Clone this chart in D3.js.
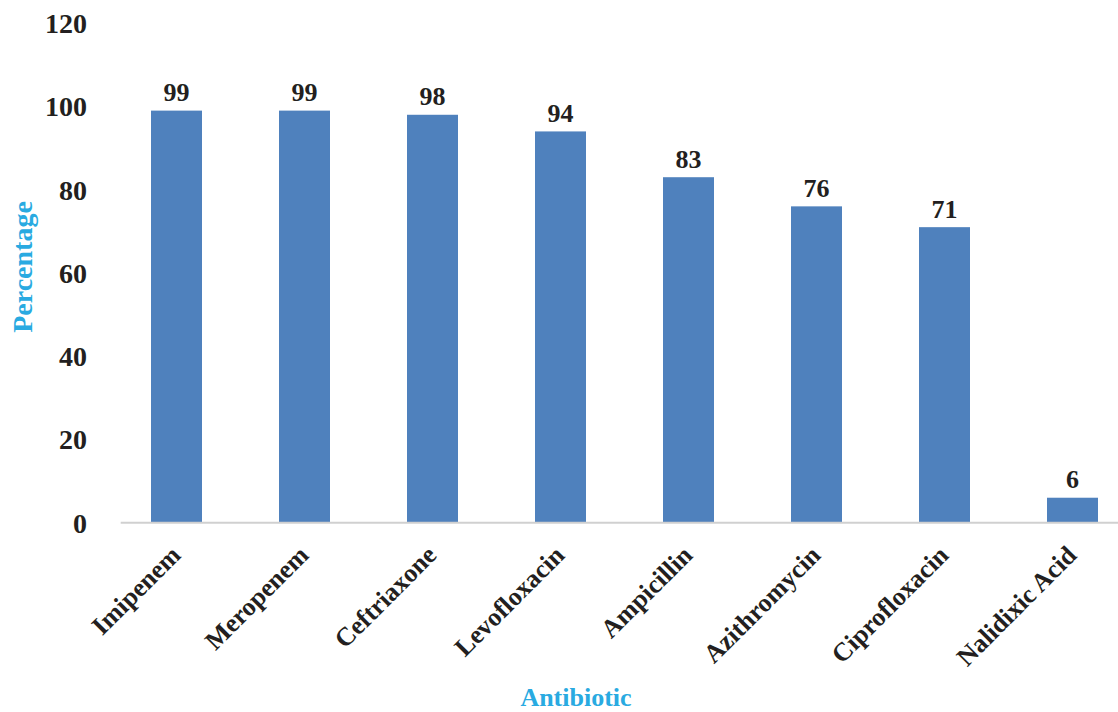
<!DOCTYPE html>
<html>
<head>
<meta charset="utf-8">
<script src="https://cdn.jsdelivr.net/npm/d3@7"></script>
<style>
  html, body { margin: 0; padding: 0; background: #fff; }
  svg { display: block; }
  text { font-family: "Liberation Serif", "Times New Roman", serif; font-weight: bold; }
</style>
</head>
<body>
<svg id="chart" width="1118" height="712"></svg>
<script>
// Antibiotic susceptibility percentages
const antibiotics = ["Imipenem", "Meropenem", "Ceftriaxone", "Levofloxacin", "Ampicillin", "Azithromycin", "Ciprofloxacin", "Nalidixic Acid"];
const percentages = [99, 99, 98, 94, 83, 76, 71, 6];
const yTicks = [0, 20, 40, 60, 80, 100, 120];

const svg = d3.select("#chart");
const W = 1118, H = 712;
const plotLeft = 112.5, step = 128;
const baseY = 522.7, topY = 23.2;

const x = d3.scaleBand()
  .domain(antibiotics)
  .range([plotLeft, plotLeft + step * antibiotics.length])
  .paddingInner(0.6)
  .paddingOuter(0.3);

const y = d3.scaleLinear().domain([0, 120]).range([baseY, topY]);

const data = antibiotics.map((name, i) => ({ name, value: percentages[i] }));

// bars
svg.append("g")
  .selectAll("rect")
  .data(data)
  .join("rect")
  .attr("x", d => x(d.name) + x.bandwidth() / 2 - 25.5)
  .attr("width", 51)
  .attr("y", d => y(d.value))
  .attr("height", d => y(0) - y(d.value))
  .attr("fill", "#4f81bd");

// category axis line
svg.append("line")
  .attr("x1", 120.7).attr("x2", W)
  .attr("y1", baseY).attr("y2", baseY)
  .attr("stroke", "#d0d0d0")
  .attr("stroke-width", 2);

// y tick labels
const yAxis = d3.axisLeft(y).tickValues(yTicks).tickSize(0).tickPadding(0);
const gy = svg.append("g").attr("transform", "translate(87,0)").call(yAxis);
gy.select(".domain").remove();
gy.selectAll("text")
  .attr("font-size", 28)
  .attr("fill", "#231f20")
  .attr("dy", "0.34em");

// value labels
svg.append("g")
  .selectAll("text")
  .data(data)
  .join("text")
  .attr("x", d => x(d.name) + x.bandwidth() / 2)
  .attr("y", d => y(d.value) - 9.5)
  .attr("text-anchor", "middle")
  .attr("font-size", 26)
  .attr("fill", "#231f20")
  .text(d => d.value);

// category labels, rotated
const xAxis = d3.axisBottom(x).tickSize(0).tickPadding(0);
const gx = svg.append("g").attr("transform", `translate(0,${baseY})`).call(xAxis);
gx.select(".domain").remove();
gx.selectAll(".tick text")
  .attr("font-size", 26)
  .attr("fill", "#231f20")
  .attr("text-anchor", "end")
  .attr("y", 0)
  .attr("dy", 0)
  .attr("transform", "translate(5.5,34) rotate(-45)");

// axis titles
svg.append("text")
  .attr("x", 576)
  .attr("y", 706)
  .attr("text-anchor", "middle")
  .attr("font-size", 26)
  .attr("fill", "#29aae1")
  .text("Antibiotic");

svg.append("text")
  .attr("transform", "translate(32,267) rotate(-90)")
  .attr("text-anchor", "middle")
  .attr("font-size", 28)
  .attr("fill", "#29aae1")
  .text("Percentage");
</script>
</body>
</html>
